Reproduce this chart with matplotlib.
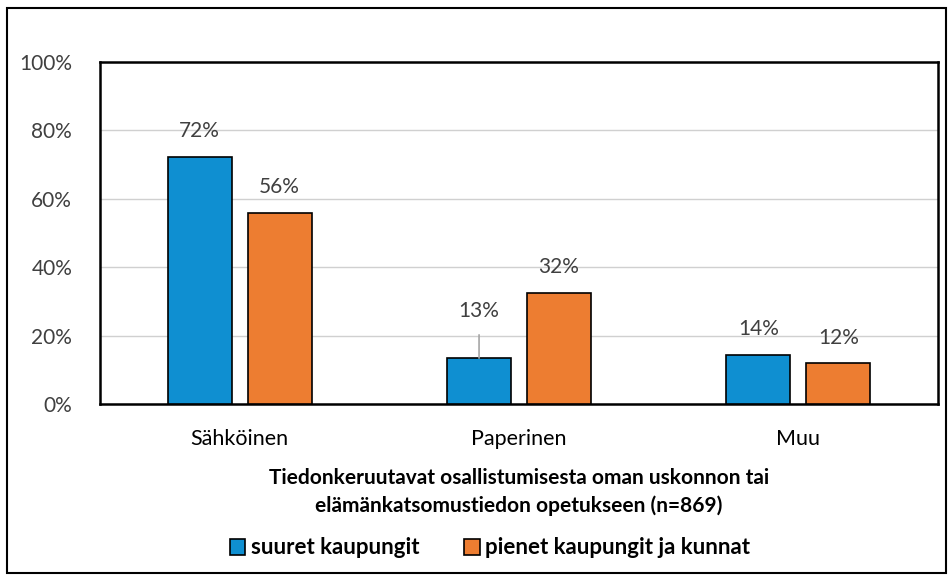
import matplotlib
matplotlib.use('Agg')
import matplotlib.pyplot as plt
import numpy as np
from matplotlib.patches import Rectangle

categories = ['Sähköinen', 'Paperinen', 'Muu']
suuret = [72.3, 13.4, 14.4]
pienet = [55.8, 32.5, 11.9]
series_names = ['suuret kaupungit', 'pienet kaupungit ja kunnat']
yticks = [0, 20, 40, 60, 80, 100]
title = ('Tiedonkeruutavat osallistumisesta oman uskonnon tai\n'
         'elämänkatsomustiedon opetukseen (n=869)')

blue = '#0f8fd1'
orange = '#ed7d31'
textgray = '#404040'

plt.rcParams['font.family'] = ['Lato', 'DejaVu Sans']

fig = plt.figure(figsize=(9.53, 5.81), dpi=100)
W, H = 953, 581
ax = fig.add_axes([100 / W, 1 - 404 / H, 838 / W, 342 / H])

x = np.arange(len(categories))
width = 0.229
off = 0.143
b1 = ax.bar(x - off, suuret, width, color=blue, edgecolor='black', linewidth=1.2,
            zorder=3, label=series_names[0])
b2 = ax.bar(x + off, pienet, width, color=orange, edgecolor='black', linewidth=1.2,
            zorder=3, label=series_names[1])

ax.set_xlim(-0.5, 2.5)
ax.set_ylim(0, 100)
ax.set_yticks(yticks)
ax.set_yticklabels(['{}%'.format(t) for t in yticks], fontsize=15, color=textgray)
ax.set_xticks(x)
ax.set_xticklabels(categories, fontsize=15.5, color='black')
ax.tick_params(axis='both', length=0)
ax.tick_params(axis='y', pad=20)
ax.tick_params(axis='x', pad=18)
ax.grid(axis='y', color='#d0d0d0', linewidth=1, zorder=0)
for s in ax.spines.values():
    s.set_linewidth(1.8)
    s.set_color('black')

# data labels
for bars in (b1, b2):
    for rect in bars:
        v = rect.get_height()
        cx = rect.get_x() + rect.get_width() / 2
        lbl = '{:.0f}%'.format(v)
        if bars is b1 and rect is bars[1]:
            ax.annotate(lbl, xy=(cx, v), xytext=(0, 34), textcoords='offset points',
                        ha='center', va='center', fontsize=15, color=textgray,
                        arrowprops=dict(arrowstyle='-', color='#a6a6a6', lw=1.2,
                                        shrinkA=8, shrinkB=0))
        else:
            ax.annotate(lbl, xy=(cx, v), xytext=(0, 18.5), textcoords='offset points',
                        ha='center', va='center', fontsize=15, color=textgray)

fig.text(519 / W, 1 - 492 / H, title, ha='center', va='center', fontsize=15,
         fontweight='bold', linespacing=1.5)

leg = fig.legend(handles=[b1, b2], loc='center', bbox_to_anchor=(490 / W, 1 - 548 / H),
                 ncol=2, frameon=False, handlelength=0.7, handleheight=0.7,
                 handletextpad=0.25, columnspacing=2.0,
                 prop={'weight': 'bold', 'size': 16})

fig.patches.append(Rectangle((7 / W, 8 / H), 939 / W, 1 - 16 / H, transform=fig.transFigure,
                             fill=False, edgecolor='black', linewidth=1.5))

fig.savefig('out.png', dpi=100)
